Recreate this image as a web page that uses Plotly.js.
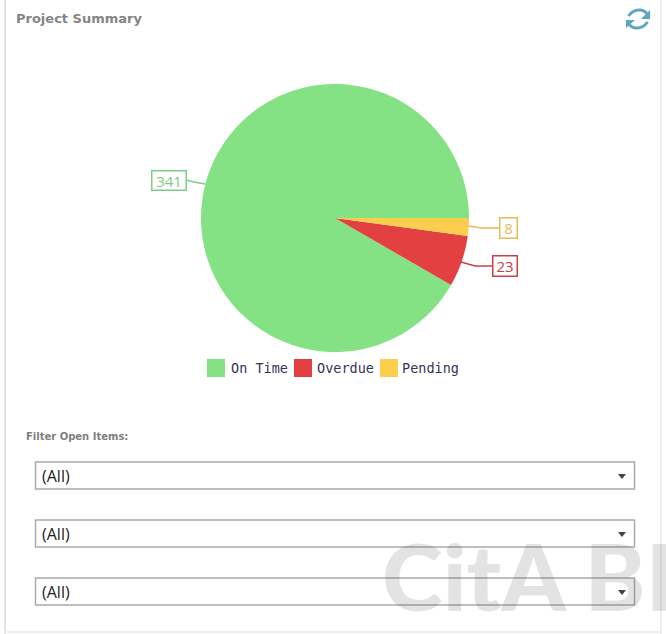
<!DOCTYPE html>
<html>
<head>
<meta charset="utf-8">
<script src="https://cdn.plot.ly/plotly-3.0.1.min.js"></script>
<style>html,body{margin:0;padding:0;background:#fff;overflow:hidden}#c{width:666px;height:634px}</style>
</head>
<body>
<div id="c"></div>
<script>
const categories = ['On Time', 'Overdue', 'Pending'];
const seriesValues = [341, 23, 8];
const sliceColors = ['#84E184', '#E34141', '#FBCF4D'];
const labelColors = ['#7FCB85', '#C9404A', '#E3BC58'];
const filterTitle = 'Filter Open Items:';
const filterValues = ['(All)', '(All)', '(All)'];

const W = 666, H = 634;
const px = x => x / W, py = y => 1 - y / H;
const shapes = [], annotations = [];
const rect = (x0, y0, x1, y1, fill, line, lw) => shapes.push({type:'rect', xref:'paper', yref:'paper', x0:px(x0), x1:px(x1), y0:py(y0), y1:py(y1), fillcolor:fill, line:{color:line||fill, width:lw===undefined?0:lw}, layer:'below'});
const path = (pts, color, width, fill) => shapes.push({type:'path', xref:'paper', yref:'paper', path:pts, line:{color:color, width:width}, fillcolor:fill||'rgba(0,0,0,0)', layer:'above'});
const poly = (a, close) => 'M' + a.map(p => px(p[0]) + ',' + py(p[1])).join('L') + (close ? 'Z' : '');
const text = (t, x, y, size, color, family, extra) => annotations.push(Object.assign({text:t, xref:'paper', yref:'paper', x:px(x), y:py(y), xanchor:'left', yanchor:'middle', showarrow:false, font:{size:size, color:color, family:family}}, extra||{}));

// panel edges
rect(4, 0, 6, 634, '#E2E2E2');
rect(660, 0, 662, 634, '#EDEDED');
rect(4, 631, 662, 633, '#EDEDED');

// heading
text('<b>Project Summary</b>', 14, 18, 13, '#858585', '"DejaVu Sans", sans-serif');

// refresh icon
const q = (a, b, c) => `M${px(a[0])},${py(a[1])}Q${px(b[0])},${py(b[1])} ${px(c[0])},${py(c[1])}`;
path(q([628.5,16],[633,9.5],[640,10]) + `Q${px(645)},${py(10.5)} ${px(647)},${py(14)}`, '#5FA5C3', 3);
path(q([647.5,22],[643,28.5],[636,28]) + `Q${px(631)},${py(27.5)} ${px(629)},${py(24)}`, '#5FA5C3', 3);
path(poly([[650,10],[650,19],[641,19]], true), '#5FA5C3', 0, '#5FA5C3');
path(poly([[626,28],[626,20],[635,20]], true), '#5FA5C3', 0, '#5FA5C3');

// leader lines and value boxes
const labelBoxes = [[151,170,186,190], [492,255,517,276], [499,217,517,238]];
const leaders = [
  [[205,184],[194,182],[186,180]],
  [[461,262],[475,266],[492,266]],
  [[468,226],[482,228],[499,228]]
];
seriesValues.forEach((v, i) => {
  const b = labelBoxes[i];
  path(poly(leaders[i]), labelColors[i], 1.5);
  annotations.push({text:String(v), xref:'paper', yref:'paper', x:px((b[0]+b[2])/2), y:py((b[1]+b[3])/2),
    xanchor:'center', yanchor:'middle', showarrow:false, width:b[2]-b[0]-2, height:b[3]-b[1]-2,
    bgcolor:'#fff', bordercolor:labelColors[i], borderwidth:1.5, borderpad:0,
    font:{size:15, color:labelColors[i], family:'"Open Sans", sans-serif'}});
});

// legend
const swatchX = [207, 294, 380], legendTextX = [229, 315, 400];
categories.forEach((c, i) => {
  rect(swatchX[i], 359, swatchX[i]+18, 377, sliceColors[i]);
  text(c, legendTextX[i], 368, 13.5, '#35355A', '"DejaVu Sans Mono", monospace');
});

// filters
text('<b>' + filterTitle + '</b>', 24, 436, 10, '#7F7F7F', '"DejaVu Sans", sans-serif');
const filterY = [462, 520, 578];
filterValues.forEach((f, i) => {
  const y = filterY[i];
  rect(35.5, y, 634.5, y+27, '#FFFFFF', '#ABABAB', 1.5);
  text(f, 40, y+13.5, 16, '#222222', '"Open Sans", sans-serif');
  path(poly([[618,y+12],[626,y+12],[622,y+17]], true), '#444444', 0, '#444444');
});

// watermark
text('CitA BI', 380, 575, 92, 'rgba(60,60,60,0.14)', 'Lato, "Open Sans", sans-serif', {});
annotations[annotations.length-1].font.weight = 900;

const data = [{
  type:'pie', labels:categories, values:seriesValues, sort:false, direction:'counterclockwise', rotation:120,
  marker:{colors:sliceColors, line:{width:0}}, textinfo:'none', hoverinfo:'label+value',
  domain:{x:[px(201), px(469)], y:[py(352), py(84)]}
}];
const layout = {
  width:W, height:H, margin:{l:0,r:0,t:0,b:0}, paper_bgcolor:'#fff', showlegend:false,
  shapes:shapes, annotations:annotations
};
Plotly.newPlot('c', data, layout, {displayModeBar:false, responsive:false});
</script>
</body>
</html>
